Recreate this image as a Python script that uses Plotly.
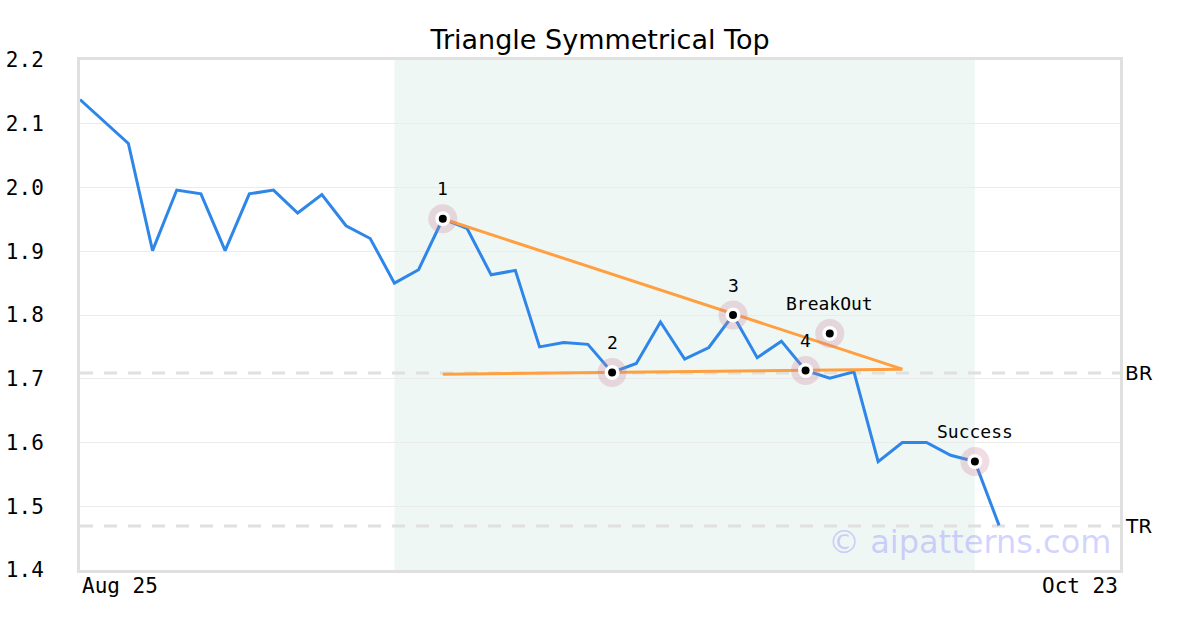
import plotly.graph_objects as go

# ---- data ----
title = "Triangle Symmetrical Top"
x_idx = list(range(39))
prices = [2.138, 2.104, 2.069, 1.901, 1.996, 1.990, 1.901, 1.990, 1.996, 1.960,
          1.989, 1.940, 1.920, 1.850, 1.871, 1.951, 1.936, 1.863, 1.870, 1.750,
          1.757, 1.754, 1.710, 1.724, 1.789, 1.731, 1.749, 1.800, 1.733, 1.759,
          1.713, 1.701, 1.711, 1.570, 1.600, 1.600, 1.580, 1.570, 1.470]
x_range = [0, 43]
x_tick_labels = ["Aug 25", "Oct 23"]
y_ticks = [1.4, 1.5, 1.6, 1.7, 1.8, 1.9, 2.0, 2.1, 2.2]

pattern_start, pattern_end = 13, 37
upper_x = [15, 34]
upper_y = [1.951, 1.715]
lower_x = [15, 34]
lower_y = [1.707, 1.715]

point_labels = ["1", "2", "3", "4", "BreakOut", "Success"]
point_x = [15, 22, 27, 30, 31, 37]
point_y = [1.951, 1.710, 1.800, 1.713, 1.771, 1.570]

level_names = ["BR", "TR"]
level_values = [1.709, 1.469]

watermark = "© aipatterns.com"

BLUE = "#2e86e8"
ORANGE = "#ff9f40"

fig = go.Figure()

fig.add_trace(go.Scatter(x=x_idx, y=prices, mode="lines",
                         line=dict(color=BLUE, width=3), hoverinfo="skip"))
fig.add_trace(go.Scatter(x=upper_x, y=upper_y, mode="lines",
                         line=dict(color=ORANGE, width=3), hoverinfo="skip"))
fig.add_trace(go.Scatter(x=lower_x, y=lower_y, mode="lines",
                         line=dict(color=ORANGE, width=3), hoverinfo="skip"))
# markers: halo, white ring, black dot
fig.add_trace(go.Scatter(x=point_x, y=point_y, mode="markers",
                         marker=dict(size=29, color="rgba(200,130,150,0.28)", line=dict(width=0)),
                         hoverinfo="skip"))
fig.add_trace(go.Scatter(x=point_x, y=point_y, mode="markers",
                         marker=dict(size=15, color="white", line=dict(width=0)),
                         hoverinfo="skip"))
fig.add_trace(go.Scatter(x=point_x, y=point_y, mode="markers",
                         marker=dict(size=8, color="black", line=dict(width=0)),
                         hoverinfo="skip"))

shapes = [dict(type="rect", xref="x", yref="paper", x0=pattern_start, x1=pattern_end,
               y0=0, y1=1, fillcolor="#eff7f4", line=dict(width=0), layer="below")]
annotations = []
for lbl, px, py in zip(point_labels, point_x, point_y):
    annotations.append(dict(xref="x", yref="y", x=px, y=py, text=lbl, showarrow=False,
                            xanchor="center", yanchor="middle", yshift=30,
                            font=dict(family="DejaVu Sans Mono", size=18, color="black")))
for name, v in zip(level_names, level_values):
    shapes.append(dict(type="line", xref="paper", yref="y", x0=0, x1=1, y0=v, y1=v,
                       line=dict(color="#e0e0e0", width=3, dash="13px,11px"), layer="between"))
    annotations.append(dict(xref="paper", yref="y", x=1, y=v, text=name, showarrow=False,
                            xanchor="left", yanchor="middle", xshift=3,
                            font=dict(family="DejaVu Sans", size=20, color="black")))

annotations.append(dict(xref="x", yref="paper", x=x_range[0], y=0, text=x_tick_labels[0],
                        showarrow=False, xanchor="left", yanchor="top", yshift=-2,
                        font=dict(family="DejaVu Sans Mono", size=21, color="black")))
annotations.append(dict(xref="x", yref="paper", x=x_range[1], y=0, text=x_tick_labels[1],
                        showarrow=False, xanchor="right", yanchor="top", yshift=-2,
                        font=dict(family="DejaVu Sans Mono", size=21, color="black")))
annotations.append(dict(xref="paper", yref="paper", x=0.993, y=0.055, text=watermark,
                        showarrow=False, xanchor="right", yanchor="middle",
                        font=dict(family="DejaVu Sans", size=32, color="rgba(140,140,255,0.38)")))

fig.update_layout(
    width=1200, height=630,
    margin=dict(l=80, r=80, t=60, b=60, autoexpand=False),
    paper_bgcolor="white", plot_bgcolor="white",
    showlegend=False,
    title=dict(text=title, x=0.5, xanchor="center", y=1 - 40 / 630, yanchor="middle",
               font=dict(family="DejaVu Sans", size=27, color="black")),
    shapes=shapes, annotations=annotations,
    xaxis=dict(range=x_range, showgrid=False, zeroline=False, showticklabels=False,
               automargin=False,
               showline=True, mirror=True, linecolor="#e0e0e0", linewidth=3, ticks=""),
    yaxis=dict(range=[1.4, 2.2], tickvals=y_ticks, ticktext=[f"{v:.1f}" for v in y_ticks],
               showgrid=True, gridcolor="#ebebeb", gridwidth=1, zeroline=False,
               automargin=False,
               showline=True, mirror=True, linecolor="#e0e0e0", linewidth=3, ticks="",
               ticklabelstandoff=29,
               tickfont=dict(family="DejaVu Sans Mono", size=21, color="black")),
)

fig.write_html("out.html", config={"displayModeBar": False},
               post_script="document.body.style.margin='0';")
